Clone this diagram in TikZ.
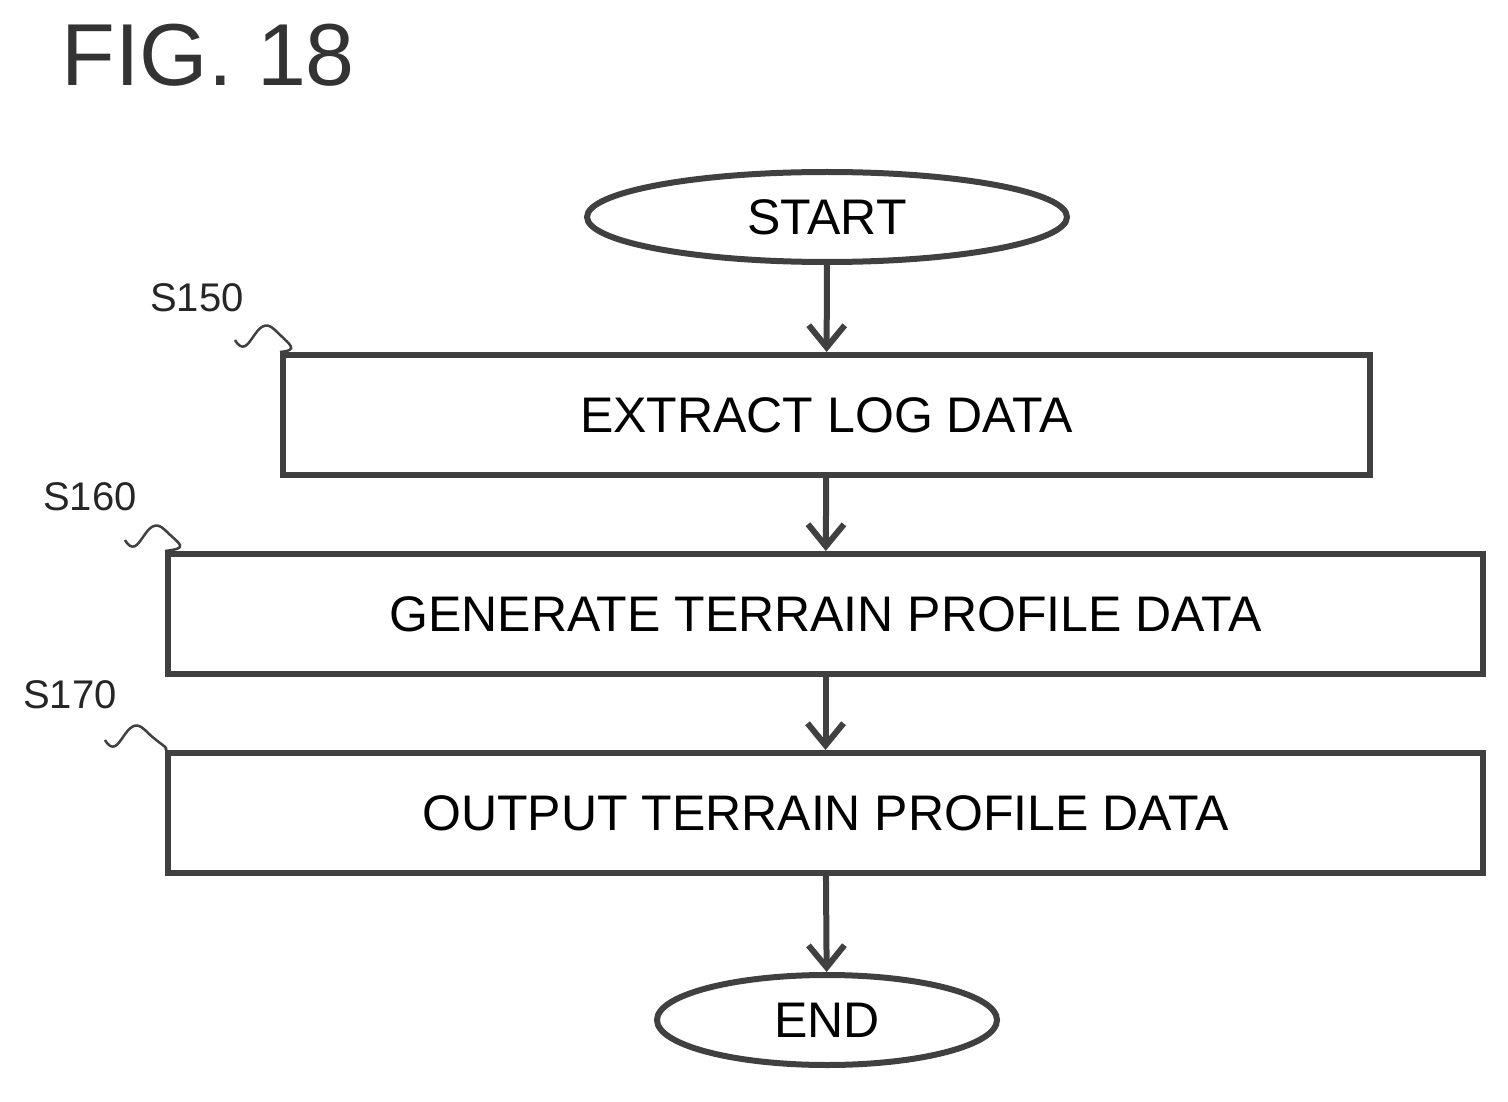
\documentclass[tikz,border=0pt]{standalone}
\usepackage{fontspec}
\setmainfont{Liberation Sans}
\usetikzlibrary{shapes.geometric,arrows.meta}
\begin{document}
\begin{tikzpicture}[x=1pt,y=-1pt,
  ln/.style={line width=6pt,draw=black!75},
  box/.style={ln,rectangle,minimum height=120pt,font=\fontsize{50}{50}\selectfont},
  term/.style={ln,ellipse,font=\fontsize{50}{50}\selectfont},
  arr/.style={ln,-{Straight Barb[length=22pt,width=36pt,line width=6pt]}},
  lab/.style={font=\fontsize{40}{40}\selectfont,text=black!85},
  sq/.style={line width=2.5pt,draw=black!75}]
\useasboundingbox (0,0) rectangle (1508,1102);
\node[anchor=west,font=\fontsize{88}{88}\selectfont,text=black!80] (title) at (58,55) {FIG. 18};
\node[term,minimum width=480pt,minimum height=90pt] (start) at (827,217) {START};
\node[box,minimum width=1087pt] (b1) at (826.5,415) {EXTRACT LOG DATA};
\node[box,minimum width=1315pt] (b2) at (825.5,614) {GENERATE TERRAIN PROFILE DATA};
\node[box,minimum width=1315pt] (b3) at (825.5,813) {OUTPUT TERRAIN PROFILE DATA};
\node[term,minimum width=340pt,minimum height=90pt] (end) at (827,1020) {END};
\draw[arr] (start) -- (b1);
\draw[arr] (b1) -- (b2);
\draw[arr] (b2) -- (b3);
\draw[arr] (b3) -- (end);
\node[lab] (l1) at (197,298) {S150};
\node[lab] (l2) at (90,497) {S160};
\node[lab] (l3) at (70,695) {S170};
\coordinate (c1) at (235,340); \coordinate (c2) at (125,540); \coordinate (c3) at (105,740);
\draw[sq] (c1) .. controls (250,365) and (255,310) .. (275,330) .. controls (290,345) and (300,350) .. (b1.north west);
\draw[sq] (c2) .. controls (140,565) and (145,510) .. (165,530) .. controls (180,545) and (190,548) .. (b2.north west);
\draw[sq] (c3) .. controls (120,765) and (125,710) .. (145,730) .. controls (160,745) and (170,748) .. (b3.north west);
\end{tikzpicture}
\end{document}
